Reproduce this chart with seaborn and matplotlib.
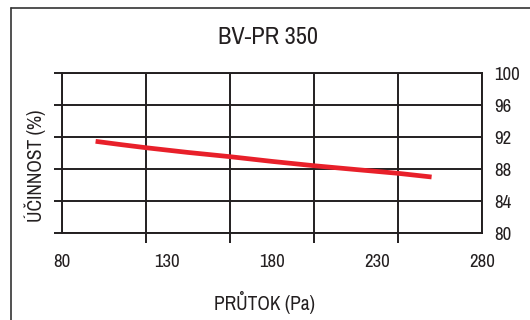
import matplotlib
matplotlib.use("Agg")
import matplotlib.pyplot as plt
from matplotlib import font_manager
from matplotlib.lines import Line2D
import seaborn as sns
import pandas as pd

# Data
flow = [96, 108, 120, 140, 160, 180, 200, 220, 240, 256]
efficiency = [91.46, 91.05, 90.66, 90.07, 89.54, 88.95, 88.41, 87.93, 87.46, 87.0]
x_labels = [80, 130, 180, 230, 280]
x_grid = [80, 120, 160, 200, 240, 280]
y_ticks = [80, 84, 88, 92, 96, 100]
title = "BV-PR 350"
xlabel = "PRŮTOK (Pa)"
ylabel = "ÚČINNOST (%)"

sns.set_theme(style="white")

# look for a condensed face
cond = None
for f in font_manager.fontManager.ttflist:
    n = f.name
    if ("Narrow" in n or "Condensed" in n) and f.weight in (400, "normal", "regular"):
        cond = (n, "normal")
        break
if cond is None:
    for f in font_manager.fontManager.ttflist:
        if f.name in ("Roboto", "Noto Sans", "Open Sans", "Inter", "Lato") and str(f.stretch) in ("condensed", "semi-condensed", "extra-condensed", "75", "87.5", "62.5") and f.weight in (400, "normal", "regular") and f.style == "normal":
            cond = (f.name, f.stretch)
            break
if cond is None:
    cond = ("Liberation Sans", "normal")
    narrow = False
else:
    narrow = True
plt.rcParams["font.family"] = [cond[0], "DejaVu Sans"]
plt.rcParams["font.stretch"] = cond[1]

k = 1.0 if narrow else 0.88

df = pd.DataFrame({"flow": flow, "eff": efficiency})

fig = plt.figure(figsize=(5.3, 3.2), dpi=100)
ax = fig.add_axes([62/530, 1-233/320, 420/530, 160/320])

sns.lineplot(data=df, x="flow", y="eff", ax=ax, color="#e8202a", linewidth=3.4,
             solid_capstyle="butt", zorder=5)

ax.set_xlim(80, 280)
ax.set_ylim(80, 100)

grid_c = "#231f20"
txt_c = "#231f20"
for v in x_grid:
    ax.axvline(v, color=grid_c, lw=1.4, zorder=2)
for v in y_ticks:
    ax.axhline(v, color=grid_c, lw=1.4, zorder=2)
for s in ax.spines.values():
    s.set_color(grid_c)
    s.set_linewidth(1.4)

ax.set_xticks(x_labels)
ax.set_xticklabels([str(v) for v in x_labels])
ax.set_xticks(x_grid, minor=True)
ax.tick_params(axis="x", which="major", length=0, pad=15, labelsize=13.5*k, colors=txt_c)
ax.tick_params(axis="x", which="minor", length=7, width=1.4, color=grid_c, bottom=True, direction="out")

ax.set_yticks(y_ticks)
ax.tick_params(axis="y", which="major", left=True, right=False, length=6, width=1.4,
               color=grid_c, labelleft=False, labelright=True, labelsize=13.5*k, pad=3,
               labelcolor=txt_c)
for lbl in ax.get_yticklabels():
    lbl.set_horizontalalignment("left")

ax.set_xlabel(xlabel, fontsize=14*k, color=txt_c)
ax.xaxis.set_label_coords((265-62)/420, -(302-233)/160)
ax.xaxis.label.set_verticalalignment("center")
ax.set_ylabel(ylabel, fontsize=14*k, color=txt_c)
ax.yaxis.set_label_coords(-(62-35)/420, (233-166)/160)
ax.yaxis.label.set_verticalalignment("center")
fig.text(268/530, 1-38/320, title, ha="center", va="center", fontsize=17.5*k, color=txt_c)

# outer frame
fig.add_artist(Line2D([11/530, 11/530], [0, 1-8/320], transform=fig.transFigure, color="#333333", lw=1.2))
fig.add_artist(Line2D([11/530, 1], [1-8/320, 1-8/320], transform=fig.transFigure, color="#333333", lw=1.2))

fig.savefig("out.png", dpi=100)
